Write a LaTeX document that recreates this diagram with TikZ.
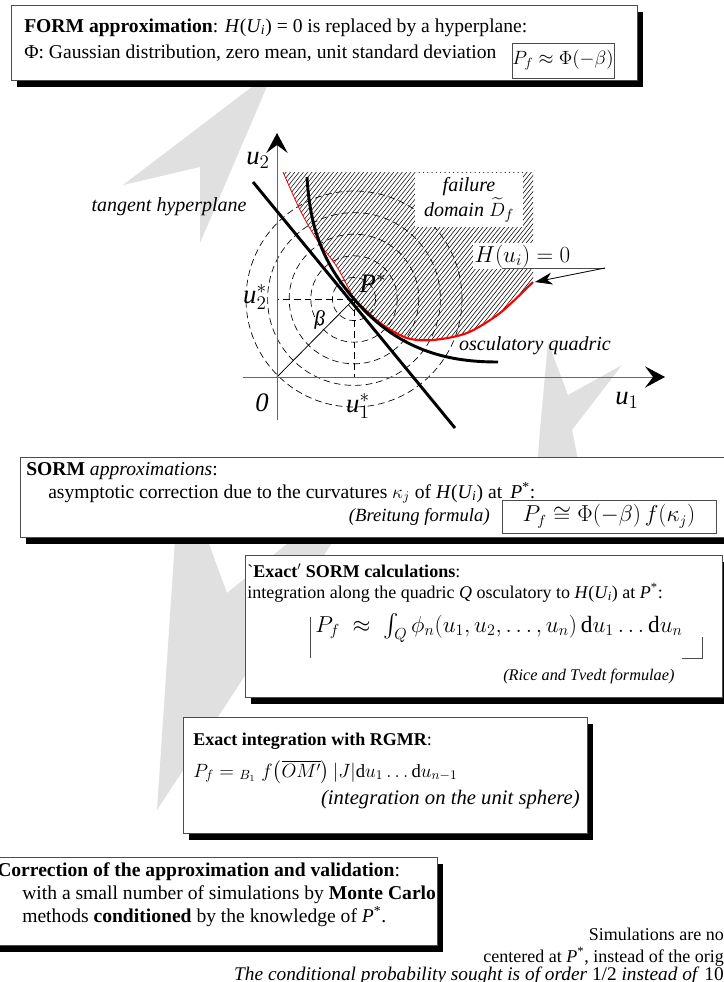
\documentclass[tikz,border=0pt]{standalone}
\usepackage{fontspec}
\setmainfont{Liberation Serif}
\usepackage{amsmath}
\usetikzlibrary{arrows.meta, positioning, shadows}

\newcommand\HUi{\textit{H}(\textit{U}\kern-0.5pt\textsubscript{\textit{i}})}

\begin{document}
\begin{tikzpicture}[
  x=0.75pt, y=-0.75pt,
  panel/.style={rectangle, draw=black!70, line width=0.6pt, fill=white, inner sep=0pt,
    drop shadow={shadow xshift=4.5pt, shadow yshift=-5pt, fill=black, opacity=1}},
  fbox/.style={rectangle, draw=black!70, line width=0.6pt, fill=white, inner sep=0pt},
  txt/.style={anchor=base west, inner sep=0pt, font=\fontsize{14.7}{17}\selectfont},
  stxt/.style={anchor=base west, inner sep=0pt, font=\fontsize{13.5}{16}\selectfont},
  ital/.style={inner sep=0pt, font=\fontsize{13}{15}\selectfont\itshape},
  lbl/.style={inner sep=0.5pt, font=\fontsize{20}{22}\selectfont},
  ilbl/.style={inner sep=1pt, font=\fontsize{15}{17}\selectfont\itshape},
  bolt/.style={fill=black!12, draw=none},
  axis/.style={draw=black!60, line width=0.7pt, -{Stealth[color=black, length=15pt, width=16pt, inset=6pt]}},
  thickline/.style={line width=2.2pt},
  guide/.style={line width=0.5pt, dash pattern=on 5pt off 3pt},
]
\useasboundingbox (0,0) rectangle (724,982);

%% grey arrows behind the boxes
\fill[bolt] (274,70) -- (123,185) -- (200,167) -- (200,243) -- cycle;
\fill[bolt] (548,342) -- (540,430) -- (536,480) -- (582,480) -- (572,430) -- (622,365) -- (568,395) -- cycle;
\fill[bolt] (157,810) -- (383,465) -- (227,593) -- (180,465) -- cycle;

%% failure domain
\begin{scope}
  \clip plot[smooth] coordinates {(283,172) (300,210) (317,240) (337,267) (354,299) (380,323)
    (407,338) (433,340) (467,333) (500,313) (533,282)} -- (533,172) -- cycle;
  \foreach \i in {0,4.3,...,470}
    \draw[line width=0.4pt] (\i+80,360) -- ++(160,-200);
\end{scope}

\coordinate (pstar) at (354,299);
\coordinate (orig) at (277,377);
\foreach \r in {21.6,43.2,64.8,86.4,108}
  \draw[guide] (pstar) circle[radius=\r];

\node[ilbl, fill=white, align=center, minimum width=81pt, minimum height=41pt] (fdom) at (469,200)
  {failure\\domain $\widetilde{D}_f$};
\node[inner sep=1pt, fill=white, anchor=base west, font=\fontsize{17}{20}\selectfont] (hlab) at (473,262) {$H(u_i) = 0$};
\coordinate (hunder) at (502,268);
\coordinate (hbend) at (605,268);
\coordinate (hfoot) at (535,282);
\draw[black!70, line width=0.5pt] (hunder) -- (hbend);
\draw[line width=0.6pt, -{Stealth[length=13pt, width=9pt, inset=4pt]}] (hbend) -- (hfoot);

%% projections of P*
\coordinate (u2foot) at (277,299);
\coordinate (u1foot) at (354,377);
\draw[guide] (pstar) -- (u2foot);
\draw[guide] (pstar) -- (u1foot);
\draw[line width=0.6pt] (orig) -- (pstar);
\draw[line width=0.5pt] (348.4,304.7) -- (353.6,310.8) -- (359.2,305.1);

%% axes
\draw[axis] (277,420) -- (277,133);
\draw[axis] (243,377) -- (665,377);

%% limit state, quadric, hyperplane
\draw[red, line width=0.6pt] plot[smooth] coordinates {(283,172) (300,210) (317,240) (337,267) (354,299)};
\draw[red, line width=1.6pt] plot[smooth] coordinates {(354,299) (380,323) (407,338) (433,340) (467,333) (500,313) (533,282)};
\draw[thickline] (253,182) -- (455,428);
\draw[thickline] (307,177) .. controls (310,230) and (324,264) .. (pstar)
  .. controls (399,352) and (450,362) .. (498,362);

\node[lbl] (u2) at (258,160) {$\textit{u}_2$};
\node[lbl] (u1) at (627,400) {$\textit{u}_1$};
\node[lbl] (zero) at (262,403) {\textit{0}};
\node[lbl] (u1s) at (358,406) {$\textit{u}_1^*$};
\node[lbl] (u2s) at (255,297) {$\textit{u}_2^*$};
\node[lbl] (plab) at (373,283) {$\textit{P}^*$};
\node[font=\fontsize{16}{18}\selectfont, rotate=-10] (beta) at (320,320) {β};
\node[ilbl] (tang) at (169,207) {tangent hyperplane};
\node[ilbl] (oscq) at (535,346) {osculatory quadric};

%% FORM
\node[panel, minimum width=469.5pt, minimum height=56.25pt] (formbox) at (324,42.5) {};
\node[txt] (form1) at (24,32) {\textbf{FORM approximation}: \HUi{} = 0 is replaced by a hyperplane:};
\node[txt] (form2) at (24,58) {Φ: Gaussian distribution, zero mean, unit standard deviation};
\node[fbox, minimum width=76.5pt, minimum height=26.25pt, font=\fontsize{14}{16}\selectfont] (formeq) at (563,60.5) {$P_f \approx \Phi(-\beta)$};

%% SORM
\node[panel, minimum width=540pt, minimum height=60pt] (sormbox) at (380,497) {};
\node[txt] (sorm1) at (26,475) {\textbf{SORM} \textit{approximations}:};
\node[txt] (sorm2) at (48,498) {asymptotic correction due to the curvatures $\kappa_j$ of \HUi{} at\, \textit{P}\textsuperscript{*}:};
\node[ital, anchor=base east, font=\fontsize{14}{16}\selectfont\itshape] (sorm3) at (490,521) {(Breitung formula)};
\node[fbox, minimum width=160.5pt, minimum height=24.75pt, font=\fontsize{16}{18}\selectfont] (sormeq) at (609,516.5) {$P_f \cong \Phi(-\beta)\, f(\kappa_j)$};

%% exact SORM
\node[panel, minimum width=357.75pt, minimum height=106.5pt] (exbox) at (483.5,626) {};
\node[stxt] (ex1) at (247,577) {\textasciigrave\textbf{Exact$'$ SORM calculations}:};
\node[stxt] (ex2) at (247,598) {integration along the quadric \textit{Q} osculatory to \HUi{} at \textit{P}\textsuperscript{*}:};
\node[anchor=base west, inner sep=0pt, font=\fontsize{17.5}{20}\selectfont] (exeq) at (315,632)
  {$P_f \;\approx\; \int_Q \phi_n(u_1, u_2, \ldots, u_n)\,\mathrm{d}u_1\ldots\mathrm{d}u_n$};
\draw[line width=0.5pt, black!70] (310,617) -- (310,658);
\draw[line width=0.5pt, black!70] (682,658) -- (702,658) -- (702,637);
\node[ital, anchor=base west, font=\fontsize{12.2}{15}\selectfont\itshape] (ex3) at (503,680) {(Rice and Tvedt formulae)};

%% RGMR
\node[panel, minimum width=303pt, minimum height=87pt] (rgbox) at (385,775) {};
\node[stxt] (rg1) at (193,745) {\textbf{Exact integration with RGMR}:};
\node[anchor=base west, inner sep=0pt, font=\fontsize{14}{16}\selectfont] (rgeq) at (193,777)
  {$P_f = {}_{B_1}\; f\bigl(\overline{OM'}\bigr)\,|J|\mathrm{d}u_1\ldots\mathrm{d}u_{n-1}$};
\node[ital, anchor=base east, font=\fontsize{15.5}{17}\selectfont\itshape] (rg2) at (580,804) {(integration on the unit sphere)};

%% Monte Carlo
\node[panel, minimum width=335.25pt, minimum height=66pt] (mcbox) at (213.5,901) {};
\node[txt] (mc1) at (-3,876) {\textbf{Correction of the approximation and validation}:};
\node[txt] (mc2) at (22,899) {with a small number of simulations by \textbf{Monte Carlo}};
\node[txt] (mc3) at (22,922) {methods \textbf{conditioned} by the knowledge of \textit{P}\textsuperscript{*}.};

\node[txt, anchor=base east, font=\fontsize{13.5}{16}\selectfont] (sim1) at (724,940) {Simulations are no};
\node[txt, anchor=base east, font=\fontsize{13.5}{16}\selectfont] (sim2) at (724,962) {centered at \textit{P}\textsuperscript{*}, instead of the orig};
\node[txt, anchor=base east, font=\fontsize{14.5}{17}\selectfont] (sim3) at (724,980) {\textit{The conditional probability sought is of order} 1/2 \textit{instead of} 10};
\end{tikzpicture}
\end{document}
